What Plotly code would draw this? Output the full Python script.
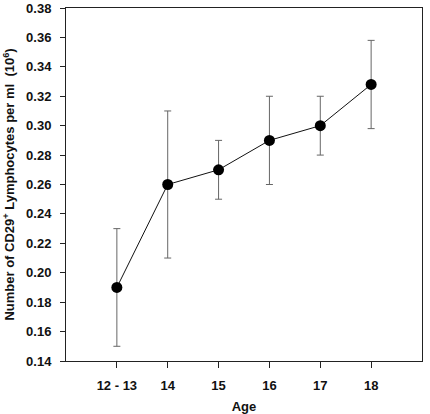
import plotly.graph_objects as go

ages = ["12 - 13", "14", "15", "16", "17", "18"]
means = [0.19, 0.26, 0.27, 0.29, 0.30, 0.328]
errors = [0.04, 0.05, 0.02, 0.03, 0.02, 0.03]
y_ticks = [0.14, 0.16, 0.18, 0.20, 0.22, 0.24, 0.26, 0.28, 0.30, 0.32, 0.34, 0.36, 0.38]

xpos = list(range(len(ages)))

fig = go.Figure()
fig.add_trace(go.Scatter(
    x=xpos, y=means, mode="lines+markers",
    line=dict(color="#111111", width=1),
    marker=dict(color="black", size=11),
    error_y=dict(type="data", array=errors, visible=True, color="#666666",
                 thickness=1, width=3.5),
    showlegend=False,
))

font = dict(family="Liberation Sans, Arial, sans-serif", size=13, color="#111111",
            weight="bold")

fig.update_layout(
    width=430, height=414,
    margin=dict(l=66, r=8, t=8, b=53),
    paper_bgcolor="white", plot_bgcolor="white",
    font=font,
)
fig.update_xaxes(
    range=[-1, 6], tickmode="array", tickvals=xpos, ticktext=ages,
    showline=True, linecolor="#222222", linewidth=1, mirror=True,
    ticks="outside", ticklen=6, tickcolor="#222222",
    showgrid=False, zeroline=False, ticklabelstandoff=6,
    tickfont=font, automargin=False,
    title=dict(text="Age", standoff=10, font=font),
)
fig.update_yaxes(
    range=[0.14, 0.38], tickmode="array", tickvals=y_ticks,
    ticktext=[f"{v:.2f}" for v in y_ticks],
    showline=True, linecolor="#222222", linewidth=1, mirror=True,
    ticks="outside", ticklen=5, tickcolor="#222222",
    showgrid=False, zeroline=False, ticklabelstandoff=6,
    tickfont=font, automargin=False, ticklabeloverflow="allow",
    title=dict(text="Number of CD29<sup>+</sup> Lymphocytes per ml  (10<sup>6</sup>)",
               standoff=8, font=font),
)

fig.write_html("out.html")
